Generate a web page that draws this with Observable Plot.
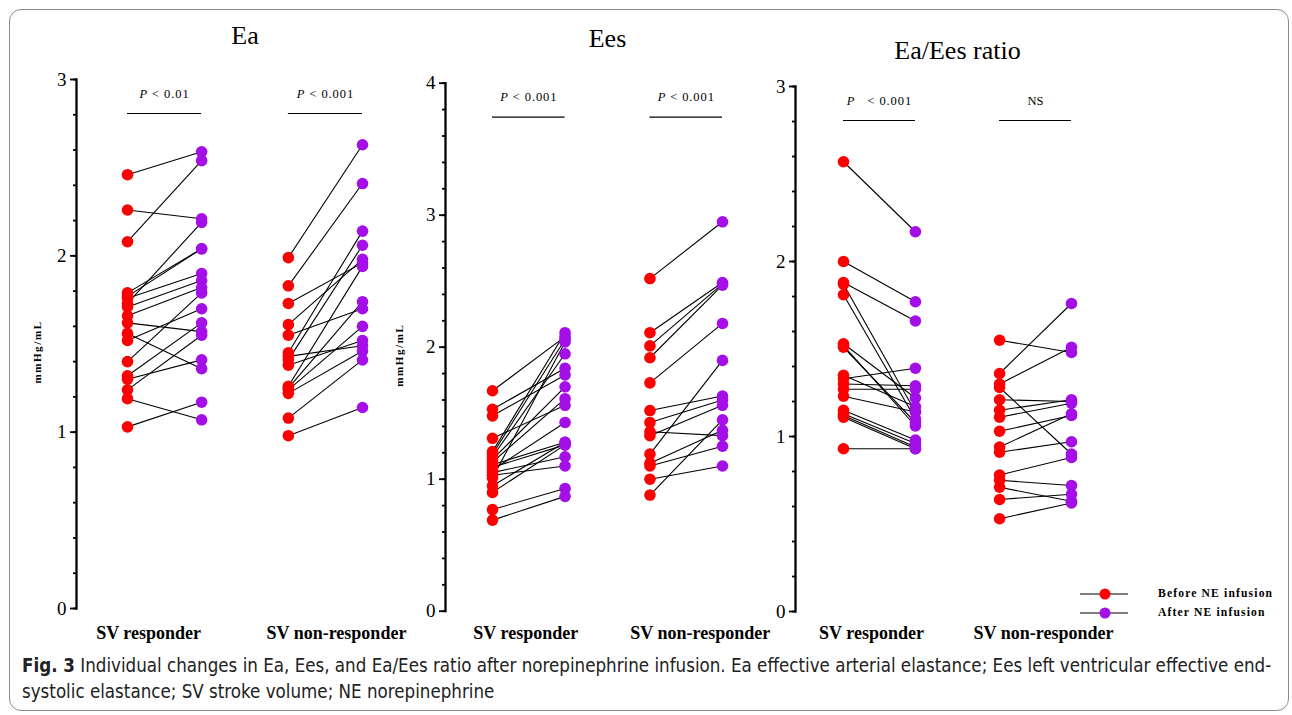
<!DOCTYPE html>
<html>
<head>
<meta charset="utf-8">
<script src="https://cdn.jsdelivr.net/npm/d3@7"></script>
<script src="https://cdn.jsdelivr.net/npm/@observablehq/plot@0.6"></script>
<style>
  body { margin: 0; background: #fff; }
  #fig { position: relative; width: 1292px; height: 715px; overflow: hidden; background: #fff; }
  .panel { position: absolute; top: 0; }
  #border { position: absolute; left: 9px; top: 9px; width: 1280px; height: 702px; border: 1px solid #8c8c8c; border-radius: 12px; box-sizing: border-box; }
  #legend { position: absolute; left: 1080px; top: 584px; font-family: "Liberation Serif", "Times New Roman", serif; font-weight: bold; font-size: 11.6px; letter-spacing: 1.15px; }
  #legend .row { display: flex; align-items: center; height: 19px; }
  #legend .row span { margin-left: 30px; }
  #caption { position: absolute; left: 22px; top: 653px; font-family: "Liberation Sans Narrow", "DejaVu Sans Condensed", "Open Sans", sans-serif; font-stretch: condensed; font-size: 18.6px; line-height: 26px; color: #222; white-space: nowrap; }
</style>
</head>
<body>
<div id="fig">
  <div id="border"></div>
  <div id="legend"></div>
  <div id="caption"><b>Fig. 3</b> Individual changes in Ea, Ees, and Ea/Ees ratio after norepinephrine infusion. Ea effective arterial elastance; Ees left ventricular effective end-<br>systolic elastance; SV stroke volume; NE norepinephrine</div>
</div>
<script>
// ---------- categories ----------
const groups = ["SV responder", "SV non-responder"];
const times = ["Before NE infusion", "After NE infusion"];
const timeColors = ["#ff0000", "#a30fe6"];

// ---------- Ea (mmHg/mL) ----------
const eaResponderBefore = [2.46, 2.26, 2.08, 1.79, 1.77, 1.73, 1.76, 1.71, 1.66, 1.62, 1.56, 1.52, 1.40, 1.32, 1.30, 1.24, 1.19, 1.03];
const eaResponderAfter  = [2.59, 2.21, 2.54, 2.04, 2.04, 2.19, 1.90, 1.86, 1.82, 1.57, 1.36, 1.70, 1.79, 1.62, 1.41, 1.55, 1.07, 1.17];
const eaNonBefore = [1.99, 1.83, 1.73, 1.61, 1.55, 1.45, 1.43, 1.41, 1.38, 1.26, 1.25, 1.24, 1.22, 1.08, 0.98];
const eaNonAfter  = [2.63, 2.41, 1.96, 1.98, 1.70, 2.14, 1.49, 2.06, 1.52, 1.94, 1.74, 1.60, 1.46, 1.41, 1.14];

// ---------- Ees (mmHg/mL) ----------
const eesResponderBefore = [1.67, 1.53, 1.48, 1.31, 1.21, 1.19, 1.17, 1.15, 1.13, 1.11, 1.09, 1.07, 1.05, 1.03, 1.01, 0.95, 0.90, 0.77, 0.69];
const eesResponderAfter  = [2.08, 1.84, 1.79, 1.56, 2.11, 2.06, 1.95, 1.70, 1.61, 1.28, 1.26, 1.43, 1.17, 1.10, 2.04, 1.28, 1.26, 0.93, 0.87];
const eesNonBefore = [2.52, 2.11, 2.01, 1.92, 1.73, 1.52, 1.43, 1.36, 1.33, 1.19, 1.12, 1.10, 1.00, 0.88];
const eesNonAfter  = [2.95, 2.49, 2.48, 2.47, 2.18, 1.63, 1.60, 1.33, 1.56, 1.90, 1.37, 1.25, 1.10, 1.45];

// ---------- Ea/Ees ratio ----------
const ratioResponderBefore = [2.57, 2.00, 1.88, 1.87, 1.81, 1.53, 1.52, 1.51, 1.35, 1.33, 1.30, 1.27, 1.23, 1.15, 1.13, 1.12, 1.11, 0.93];
const ratioResponderAfter  = [2.17, 1.77, 1.66, 1.14, 1.10, 1.22, 1.06, 1.08, 1.17, 1.39, 1.29, 1.27, 1.14, 0.98, 0.96, 0.94, 0.93, 0.93];
const ratioNonBefore = [1.55, 1.36, 1.30, 1.28, 1.21, 1.15, 1.11, 1.03, 0.94, 0.91, 0.78, 0.75, 0.71, 0.64, 0.53];
const ratioNonAfter  = [1.48, 1.76, 1.51, 0.90, 1.20, 1.21, 1.19, 1.12, 1.13, 0.97, 0.88, 0.72, 0.63, 0.67, 0.62];

// ---------- texts ----------
const panelTitles = ["Ea", "Ees", "Ea/Ees ratio"];
const yLabel = "mmHg/mL";
const eaPValues = ["P < 0.01", "P < 0.001"];
const eesPValues = ["P < 0.001", "P < 0.001"];
const ratioPValues = ["P\u00a0\u00a0\u00a0< 0.001", "NS"];
const yMax = [3, 4, 3];

// ---------- layout (pixels) ----------
const GROUP_GAP = 2.17; // distance between groups, in before→after steps
const layouts = [
  {left: 0,   width: 380, axisX: 76, top: 79,   bottom: 608, xRange: [127, 362], yLabelDx: -39, titleDy: -44, labelDx: [-16, 11], labelDy: 25},
  {left: 380, width: 390, axisX: 65, top: 82.7, bottom: 610.7, xRange: [112, 342], yLabelDx: -46, titleDy: -45, labelDx: [-3, 14], labelDy: 22},
  {left: 770, width: 522, axisX: 25, top: 86,   bottom: 611, xRange: [73, 301],  yLabelDx: null, titleDy: -36, labelDx: [-8, 8], labelDy: 22}
];
const H = 650;

function buildPairs(respB, respA, nonB, nonA) {
  const out = [];
  respB.forEach((b, i) => out.push({group: groups[0], before: b, after: respA[i]}));
  nonB.forEach((b, i) => out.push({group: groups[1], before: b, after: nonA[i]}));
  return out;
}
const panelPairs = [
  buildPairs(eaResponderBefore, eaResponderAfter, eaNonBefore, eaNonAfter),
  buildPairs(eesResponderBefore, eesResponderAfter, eesNonBefore, eesNonAfter),
  buildPairs(ratioResponderBefore, ratioResponderAfter, ratioNonBefore, ratioNonAfter)
];
const panelP = [eaPValues, eesPValues, ratioPValues];

const slot = (g, t) => groups.indexOf(g) * GROUP_GAP + (t === times[1] ? 1 : 0);

const fig = document.getElementById("fig");

panelPairs.forEach((pairs, k) => {
  const L = layouts[k];
  const ymax = yMax[k];
  const points = pairs.flatMap(d => [
    {group: d.group, time: times[0], value: d.before},
    {group: d.group, time: times[1], value: d.after}
  ]);
  const pRows = groups.map((g, i) => ({group: g, label: panelP[k][i]}));
  const marks = [
    Plot.frame({anchor: "left", strokeWidth: 2.3, stroke: "black"}),
    Plot.axisY({ticks: d3.range(0, ymax + 0.001, 0.2), tickSize: 3, tickFormat: () => "", strokeWidth: 1.8, label: null}),
    Plot.axisY({ticks: d3.range(0, ymax + 1, 1), tickSize: 6, tickPadding: 4, strokeWidth: 1.8, fontSize: 19, tickFormat: d3.format("d"), label: null}),
    Plot.link(pairs, {
      x1: d => slot(d.group, times[0]), x2: d => slot(d.group, times[1]),
      y1: "before", y2: "after", stroke: "black", strokeWidth: 1.1
    }),
    Plot.dot(points, {x: d => slot(d.group, d.time), y: "value", r: 5.8, fill: "time", stroke: "none"}),
    Plot.ruleY(pRows, {y: () => ymax, x1: d => slot(d.group, times[0]), x2: d => slot(d.group, times[1]), dy: 34, stroke: "black", strokeWidth: 1.2}),
    Plot.text(pRows, {x: d => slot(d.group, times[0]) + 0.5, y: () => ymax, dy: 14, lineAnchor: "middle", text: "label", fontSize: 12.5}),
    Plot.text(groups, {x: g => slot(g, times[0]) + 0.5, frameAnchor: "bottom", lineAnchor: "middle", dy: L.labelDy, text: d => d, fontSize: 18, fontWeight: "bold"}),
    Plot.text([panelTitles[k]], {x: () => (GROUP_GAP + 1) / 2, frameAnchor: "top", lineAnchor: "middle", dy: L.titleDy, text: d => d, fontSize: 26})
  ];
  if (L.yLabelDx !== null) {
    marks.push(Plot.text([yLabel], {frameAnchor: "left", textAnchor: "middle", lineAnchor: "middle", dx: L.yLabelDx, dy: 8, rotate: -90, text: d => d, fontSize: 11, fontWeight: "bold"}));
  }
  const chart = Plot.plot({
    width: L.width,
    height: H,
    marginLeft: L.axisX,
    marginRight: 0,
    marginTop: L.top,
    marginBottom: H - L.bottom,
    x: {type: "linear", domain: [0, GROUP_GAP + 1], range: L.xRange, axis: null},
    y: {domain: [0, ymax], axis: null},
    color: {domain: times, range: timeColors},
    style: {fontFamily: "'Liberation Serif', 'Times New Roman', serif", color: "black", background: "transparent", overflow: "visible"},
    marks
  });
  chart.classList.add("panel");
  chart.style.left = L.left + "px";
  chart.querySelectorAll("text").forEach(t => {
    const s = t.textContent;
    if (s === yLabel) t.setAttribute("letter-spacing", "1.6");
    const gi = groups.indexOf(s);
    if (gi >= 0) {
      const tr = t.getAttribute("transform") || "";
      t.setAttribute("transform", tr + ` translate(${L.labelDx[gi]},0)`);
    }
    if (/^P[\s\u00a0]/.test(s)) {
      const rest = s.slice(1);
      t.textContent = "";
      const ns = "http://www.w3.org/2000/svg";
      const a = document.createElementNS(ns, "tspan");
      a.setAttribute("font-style", "italic");
      a.textContent = "P";
      const b = document.createElementNS(ns, "tspan");
      b.textContent = rest;
      t.appendChild(a); t.appendChild(b);
      t.setAttribute("letter-spacing", "0.9");
    }
  });
  fig.appendChild(chart);
});

// ---------- legend ----------
const legend = document.getElementById("legend");
times.forEach((t, i) => {
  const row = document.createElement("div");
  row.className = "row";
  row.innerHTML = `<svg width="48" height="14"><line x1="0" x2="48" y1="7" y2="7" stroke="black" stroke-width="1.2"/><circle cx="25" cy="7" r="5.5" fill="${timeColors[i]}"/></svg><span>${t}</span>`;
  legend.appendChild(row);
});
</script>
</body>
</html>
